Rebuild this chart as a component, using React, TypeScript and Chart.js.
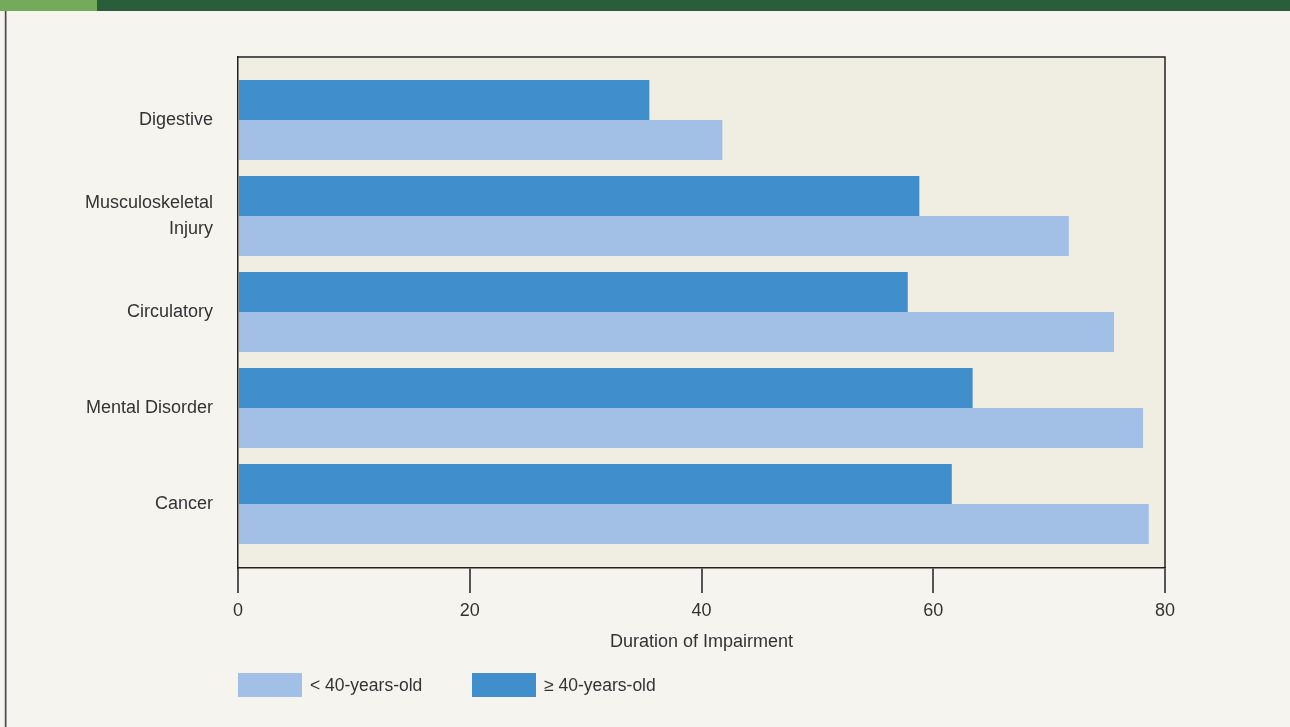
import React, { useEffect, useRef } from "react";
import { Chart, registerables } from "chart.js";

Chart.register(...registerables);

// Impairment categories, top to bottom
const categories: (string | string[])[] = [
  "Digestive",
  ["Musculoskeletal", "Injury"],
  "Circulatory",
  "Mental Disorder",
  "Cancer",
];

// Duration of impairment by age group
const olderValues = [35.5, 58.8, 57.8, 63.4, 61.6]; // ≥ 40-years-old
const youngerValues = [41.8, 71.7, 75.6, 78.1, 78.6]; // < 40-years-old

const xTicks = [0, 20, 40, 60, 80];

const olderLabel = "\u2265 40-years-old";
const youngerLabel = "< 40-years-old";

const FONT = '"Liberation Sans", Arial, Helvetica, sans-serif';
const TEXT = "#333333";
const PAGE_BG = "#f5f4ef";
const PLOT_BG = "#f0ede2";
const LIGHT_BLUE = "#a2c0e6";
const DARK_BLUE = "#418ecc";

const framePlugin = {
  id: "pageFrame",
  beforeDraw(chart: Chart) {
    const { ctx, width, height, chartArea } = chart;
    ctx.save();
    ctx.fillStyle = PAGE_BG;
    ctx.fillRect(0, 0, width, height);
    // header band
    ctx.fillStyle = "#2b5d3a";
    ctx.fillRect(0, 0, width, 11);
    ctx.fillStyle = "#74ab5b";
    ctx.fillRect(0, 0, 97, 11);
    // page left rule
    ctx.fillStyle = "#cfcfcf";
    ctx.fillRect(4, 11, 1, height - 11);
    ctx.fillStyle = "#4a4a4a";
    ctx.fillRect(5, 11, 1.5, height - 11);
    // plot background
    ctx.fillStyle = PLOT_BG;
    ctx.fillRect(chartArea.left, chartArea.top, chartArea.right - chartArea.left, chartArea.bottom - chartArea.top);
    ctx.restore();
  },
  afterDraw(chart: Chart) {
    const { ctx, chartArea } = chart;
    ctx.save();
    ctx.strokeStyle = "#222222";
    ctx.lineWidth = 1.5;
    ctx.beginPath();
    ctx.moveTo(chartArea.left, chartArea.top);
    ctx.lineTo(chartArea.right, chartArea.top);
    ctx.lineTo(chartArea.right, chartArea.bottom);
    ctx.stroke();

    // legend: younger group first, then older group
    const items = [...chart.data.datasets].reverse();
    const boxW = 64;
    const boxH = 24;
    const top = 673;
    const step = 234;
    ctx.font = `17.5px ${FONT}`;
    ctx.textBaseline = "middle";
    ctx.textAlign = "left";
    items.forEach((ds, i) => {
      const x = chartArea.left + i * step;
      ctx.fillStyle = ds.backgroundColor as string;
      ctx.fillRect(x, top, boxW, boxH);
      ctx.fillStyle = TEXT;
      ctx.fillText(ds.label as string, x + boxW + 8, top + boxH / 2 + 1);
    });
    ctx.restore();
  },
};

export default function App() {
  const canvasRef = useRef<HTMLCanvasElement | null>(null);

  useEffect(() => {
    const canvas = canvasRef.current;
    if (!canvas) return;
    const chart = new Chart(canvas, {
      type: "bar",
      data: {
        datasets: [
          {
            label: olderLabel,
            data: olderValues.map((v, i) => ({ x: v, y: i })),
            backgroundColor: DARK_BLUE,
            borderWidth: 0,
          },
          {
            label: youngerLabel,
            data: youngerValues.map((v, i) => ({ x: v, y: i })),
            backgroundColor: LIGHT_BLUE,
            borderWidth: 0,
          },
        ],
      },
      options: {
        indexAxis: "y",
        animation: false,
        responsive: false,
        devicePixelRatio: 1,
        layout: { padding: { left: 0, top: 57, right: 125, bottom: 74 } },
        datasets: {
          bar: { categoryPercentage: 80 / 96, barPercentage: 1 },
        },
        plugins: {
          legend: { display: false },
          tooltip: { enabled: false },
        },
        scales: {
          x: {
            type: "linear",
            min: 0,
            max: 80,
            afterFit: (axis: any) => {
              axis.height = 85;
            },
            afterBuildTicks: (axis: any) => {
              axis.ticks = xTicks.map((v) => ({ value: v }));
            },
            grid: {
              drawOnChartArea: false,
              drawTicks: true,
              tickLength: 25,
              color: "#555555",
              lineWidth: 2,
            },
            border: { display: true, color: "#222222", width: 1.5 },
            ticks: {
              padding: 7,
              color: TEXT,
              font: { family: FONT, size: 18 },
            },
            title: {
              display: true,
              text: "Duration of Impairment",
              color: TEXT,
              font: { family: FONT, size: 18 },
              padding: { top: 0, bottom: 0 },
            },
          },
          y: {
            type: "linear",
            reverse: true,
            offset: false,
            min: -0.656,
            max: 4.667,
            afterFit: (axis: any) => {
              axis.width = 238;
            },
            afterBuildTicks: (axis: any) => {
              axis.ticks = categories.map((_, i) => ({ value: i }));
            },
            grid: { display: false, drawTicks: false, offset: false },
            border: { display: true, color: "#222222", width: 1.5 },
            ticks: {
              padding: 25,
              color: TEXT,
              font: { family: FONT, size: 18, lineHeight: 1.4 },
              callback: (value: any) => categories[Number(value)] ?? "",
            },
          },
        },
      },
      plugins: [framePlugin],
    });
    return () => chart.destroy();
  }, []);

  return (
    <div style={{ position: "fixed", left: 0, top: 0, width: 1290, height: 727, background: PAGE_BG }}>
      <canvas ref={canvasRef} width={1290} height={727} style={{ display: "block", width: 1290, height: 727 }} />
    </div>
  );
}
